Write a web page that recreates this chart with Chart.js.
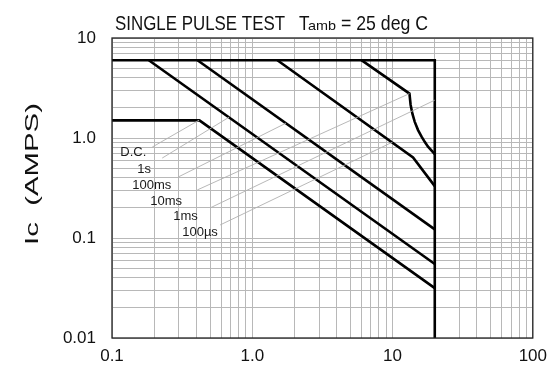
<!DOCTYPE html>
<html>
<head>
<meta charset="utf-8">
<script src="https://cdn.jsdelivr.net/npm/chart.js@4/dist/chart.umd.min.js"></script>
<style>
html,body{margin:0;padding:0;background:#fff;}
canvas{display:block;}
</style>
</head>
<body>
<canvas id="c" width="555" height="365"></canvas>
<script>
// ---- data (V in volts, I in amps) ----
const envelopeV = [0.1, 20, 20];
const envelopeI = [6, 6, 0.01];
const dcV = [0.1, 0.42, 20];
const dcI = [1.5, 1.5, 0.0315];
const s1V = [0.183, 20];
const s1I = [6, 0.055];
const ms100V = [0.407, 20];
const ms100I = [6, 0.122];
const ms10V = [1.51, 14.0, 20];
const ms10I = [6, 0.64, 0.33];
const ms1V = [6.0, 13.2, 13.45, 13.85, 14.4, 15.2, 16.1, 17.0, 17.9, 20];
const ms1I = [6, 2.78, 2.15, 1.75, 1.45, 1.2, 1.03, 0.91, 0.82, 0.69];

// leader lines (label -> curve)
const leaderV = [[0.1935, 0.418], [0.228, 0.684], [0.2964, 1.74], [0.405, 13.2], [0.501, 20], [0.590, 10.0]];
const leaderI = [[0.811, 1.509], [0.630, 1.617], [0.407, 1.408], [0.302, 2.78], [0.200, 2.39], [0.135, 0.91]];

// curve labels and their anchors (data coords)
const curveLabels = ['D.C.', '1s', '100ms', '10ms', '1ms', '100\u00B5s'];
const labelV = [0.1146, 0.1514, 0.1395, 0.1873, 0.2731, 0.3165];
const labelI = [0.712, 0.4898, 0.3388, 0.2346, 0.1662, 0.1132];

// ticks
const xTickValues = [0.1, 1, 10, 100];
const xTickLabels = ['0.1', '1.0', '10', '100'];
const yTickValues = [0.01, 0.1, 1, 10];
const yTickLabels = ['0.01', '0.1', '1.0', '10'];

const titleMain = 'SINGLE PULSE TEST';
const yTitle = 'Ic  (AMPS)';

// ---- helpers ----
const FONT = '"Liberation Sans", Arial, Helvetica, sans-serif';
function pts(xs, ys) { return xs.map((x, i) => ({ x: x, y: ys[i] })); }
function logTicks(min, max) {
  const out = [];
  const e0 = Math.round(Math.log10(min)), e1 = Math.round(Math.log10(max));
  for (let e = e0; e <= e1; e++) {
    for (let m = 1; m <= 9; m++) {
      const v = Number((m * Math.pow(10, e)).toPrecision(3));
      if (v >= min - 1e-12 && v <= max + 1e-12) out.push(v);
    }
  }
  return out;
}
function labelFor(values, labels, v) {
  for (let i = 0; i < values.length; i++) if (Math.abs(v - values[i]) / values[i] < 1e-6) return labels[i];
  return '';
}

const thick = { borderColor: '#000', borderWidth: 2.6, pointRadius: 0, fill: false, tension: 0 };
const thin = { borderColor: '#b0b0b0', borderWidth: 0.9, pointRadius: 0, fill: false, tension: 0 };

const datasets = [];
leaderV.forEach((xs, i) => datasets.push(Object.assign({ data: pts(xs, leaderI[i]) }, thin)));
[[envelopeV, envelopeI], [dcV, dcI], [s1V, s1I], [ms100V, ms100I], [ms10V, ms10I], [ms1V, ms1I]]
  .forEach(p => datasets.push(Object.assign({ data: pts(p[0], p[1]) }, thick)));

const decor = {
  id: 'decor',
  afterDatasetsDraw(chart) {
    const ctx = chart.ctx, xs = chart.scales.x, ys = chart.scales.y;
    ctx.save();
    ctx.fillStyle = '#1a1a1a';
    ctx.font = '13px ' + FONT;
    ctx.textAlign = 'left';
    ctx.textBaseline = 'middle';
    curveLabels.forEach((t, i) => {
      ctx.fillText(t, xs.getPixelForValue(labelV[i]), ys.getPixelForValue(labelI[i]));
    });
    ctx.restore();
  },
  afterDraw(chart) {
    const ctx = chart.ctx, a = chart.chartArea;
    ctx.save();
    // frame
    ctx.strokeStyle = '#222';
    ctx.lineWidth = 1.3;
    ctx.strokeRect(a.left, a.top, a.right - a.left, a.bottom - a.top);
    // title
    ctx.fillStyle = '#111';
    ctx.textBaseline = 'alphabetic';
    ctx.textAlign = 'left';
    function piece(txt, x, font, width) {
      ctx.font = font;
      const s = width / ctx.measureText(txt).width;
      ctx.save();
      ctx.translate(x, 30);
      ctx.scale(s, 1);
      ctx.fillText(txt, 0, 0);
      ctx.restore();
    }
    piece(titleMain, 115, '21px ' + FONT, 170);
    piece('T', 299, '21px ' + FONT, 10.5);
    piece('amb', 308, '13px ' + FONT, 28);
    piece('= 25 deg C', 341, '21px ' + FONT, 87);
    // y axis title (stretched along its direction)
    ctx.font = '19px ' + FONT;
    const wt = ctx.measureText(yTitle).width;
    ctx.save();
    ctx.translate(33, 174);
    ctx.rotate(-Math.PI / 2);
    ctx.scale(142 / wt, 1);
    ctx.textAlign = 'center';
    ctx.textBaseline = 'middle';
    ctx.fillText(yTitle, 0, 0);
    ctx.restore();
    ctx.restore();
  }
};

new Chart(document.getElementById('c'), {
  type: 'line',
  data: { datasets: datasets },
  plugins: [decor],
  options: {
    responsive: false,
    animation: false,
    devicePixelRatio: 1,
    layout: { padding: { left: 0, right: 22, top: 38, bottom: 0 } },
    plugins: { legend: { display: false }, tooltip: { enabled: false }, title: { display: false } },
    elements: { point: { radius: 0 } },
    scales: {
      x: {
        type: 'logarithmic', min: 0.1, max: 100,
        afterBuildTicks(s) { s.ticks = logTicks(0.1, 100).map(v => ({ value: v })); },
        afterFit(s) { s.height = 27; },
        grid: { color: '#b8b8b8', lineWidth: 1, drawTicks: false },
        border: { display: false },
        ticks: {
          autoSkip: false, maxRotation: 0, padding: 8,
          color: '#111', font: { size: 17, family: FONT },
          callback(v) { return labelFor(xTickValues, xTickLabels, v); }
        }
      },
      y: {
        type: 'logarithmic', min: 0.01, max: 10,
        afterBuildTicks(s) { s.ticks = logTicks(0.01, 10).map(v => ({ value: v })); },
        afterFit(s) { s.width = 112; },
        grid: { color: '#b8b8b8', lineWidth: 1, drawTicks: false },
        border: { display: false },
        ticks: {
          autoSkip: false, padding: 16,
          color: '#111', font: { size: 17, family: FONT },
          callback(v) { return labelFor(yTickValues, yTickLabels, v); }
        }
      }
    }
  }
});
</script>
</body>
</html>
